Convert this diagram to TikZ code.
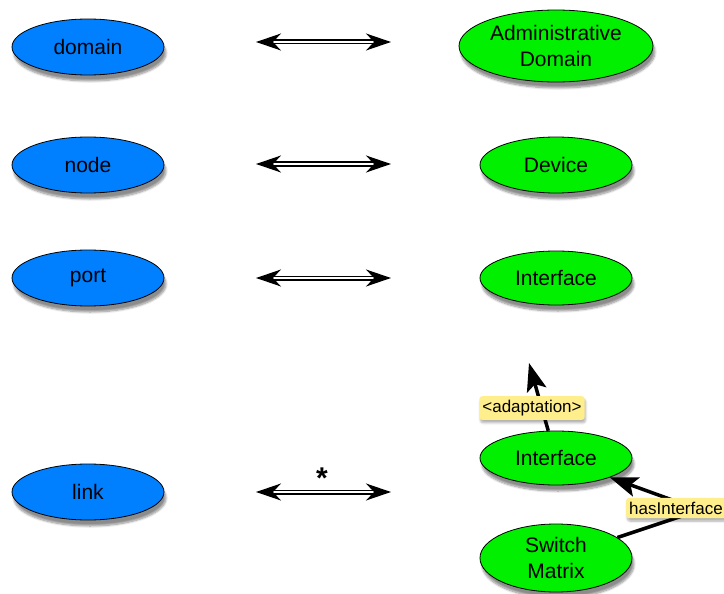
\documentclass[tikz,border=0pt]{standalone}
\usepackage{fontspec}
\setmainfont{Liberation Sans}
\usetikzlibrary{shapes.geometric,arrows.meta,shadows.blur}
\definecolor{cblue}{RGB}{0,128,255}
\definecolor{cgreen}{RGB}{0,240,0}
\definecolor{cyellow}{RGB}{255,238,140}
\begin{document}
\begin{tikzpicture}[x=1pt,y=-1pt,
  ell/.style={ellipse,draw=black,line width=0.8pt,inner sep=0pt,
    minimum width=152pt,minimum height=56pt,align=center,
    font=\fontsize{21}{26}\selectfont,
    blur shadow={shadow xshift=2pt,shadow yshift=-6pt,shadow blur steps=8,shadow opacity=45}},
  bl/.style={ell,fill=cblue},
  gr/.style={ell,fill=cgreen},
  dbl/.style={double=white,double distance=2.4pt,line width=1.3pt,
    {Stealth[length=25pt,width=17pt,inset=8pt]}-{Stealth[length=25pt,width=17pt,inset=8pt]}},
  lbl/.style={fill=cyellow,rounded corners=3pt,inner xsep=3pt,inner ysep=4pt,
    font=\fontsize{17}{20}\selectfont,
    blur shadow={shadow xshift=1pt,shadow yshift=-3pt,shadow blur steps=5,shadow opacity=30}},
  rel/.style={line width=3.5pt,-{Stealth[length=28pt,width=20pt,inset=6pt]}}
]
\useasboundingbox (0,0) rectangle (724,594);
% left column
\node[bl] (domain) at (88,47) {domain};
\node[bl] (node) at (88,165) {node};
\node[bl] (port) at (88,278) {port};
\node[bl] (link) at (88,492) {link};
% right column
\node[gr,minimum width=194pt,minimum height=72pt] (admin) at (556,46) {Administrative\\Domain};
\node[gr] (device) at (556,165) {Device};
\node[gr,minimum height=54pt] (iface) at (556,278) {Interface};
\node[gr,minimum height=54pt] (iface2) at (556,458) {Interface};
\node[gr,minimum height=68pt] (sm) at (556,558) {Switch\\Matrix};
% double arrows
\coordinate (a1l) at (256,42); \coordinate (a1r) at (391,42);
\coordinate (a2l) at (256,164); \coordinate (a2r) at (391,164);
\coordinate (a3l) at (256,278); \coordinate (a3r) at (391,278);
\coordinate (a4l) at (256,492); \coordinate (a4r) at (391,492);
\draw[dbl] (a1l) -- (a1r);
\draw[dbl] (a2l) -- (a2r);
\draw[dbl] (a3l) -- (a3r);
\draw[dbl] (a4l) -- (a4r);
\node[font=\bfseries\fontsize{30}{30}\selectfont] (star) at (322,478) {*};
% relations
\coordinate (uptip) at (529,363);
\coordinate (bend) at (700,510);
\draw[rel] (iface2) -- (uptip);
\draw[line width=3.5pt] (sm) -- (bend);
\draw[rel] (bend) -- (iface2);
\node[lbl] (adapt) at (532,408) {<adaptation>};
\node[lbl] (hasif) at (676,508) {hasInterface};
\end{tikzpicture}
\end{document}
